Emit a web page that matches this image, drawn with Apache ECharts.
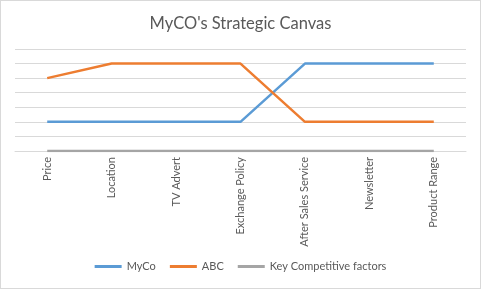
<!DOCTYPE html>
<html>
<head>
<meta charset="utf-8">
<script src="https://cdn.jsdelivr.net/npm/echarts@6/dist/echarts.min.js"></script>
<style>
  html, body { margin: 0; padding: 0; background: #fff; }
  #chart { width: 479px; height: 287px; border: 1px solid #d9d9d9; }
</style>
</head>
<body>
<div id="chart"></div>
<script>
// 战略画布数据
const factors = ['Price', 'Location', 'TV Advert', 'Exchange Policy', 'After Sales Service', 'Newsletter', 'Product Range'];
const myco = [2, 2, 2, 2, 6, 6, 6];
const abc = [5, 6, 6, 6, 2, 2, 2];
const keyFactors = [0, 0, 0, 0, 0, 0, 0];

const font = 'Lato, "Open Sans", sans-serif';
const chart = echarts.init(document.getElementById('chart'));

const lineSeries = (name, data, color) => ({
  name,
  type: 'line',
  data,
  symbol: 'none',
  lineStyle: { color, width: 2.5 },
  itemStyle: { color },
  animation: false,
});

chart.setOption({
  animation: false,
  title: {
    text: "MyCO's Strategic Canvas",
    left: 'center',
    top: 9,
    textStyle: { color: '#595959', fontSize: 16.5, fontWeight: 'normal', fontFamily: font },
  },
  legend: {
    bottom: 11,
    left: 'center',
    itemWidth: 27,
    itemHeight: 3,
    itemGap: 14,
    icon: 'rect',
    textStyle: { color: '#595959', fontSize: 11, fontFamily: font },
    data: ['MyCo', 'ABC', 'Key Competitive factors'],
  },
  grid: { left: 14, right: 14, top: 48, bottom: 137 },
  xAxis: {
    type: 'category',
    data: factors,
    boundaryGap: true,
    axisLine: { lineStyle: { color: '#d9d9d9' } },
    axisTick: { show: false },
    axisLabel: {
      rotate: 90,
      color: '#595959',
      fontSize: 11,
      fontFamily: font,
      margin: 6,
      interval: 0,
    },
  },
  yAxis: {
    type: 'value',
    min: 0,
    max: 7,
    interval: 1,
    axisLabel: { show: false },
    axisLine: { show: false },
    axisTick: { show: false },
    splitLine: { lineStyle: { color: '#d9d9d9' } },
  },
  series: [
    lineSeries('MyCo', myco, '#5b9bd5'),
    lineSeries('ABC', abc, '#ed7d31'),
    lineSeries('Key Competitive factors', keyFactors, '#a5a5a5'),
  ],
});
</script>
</body>
</html>
